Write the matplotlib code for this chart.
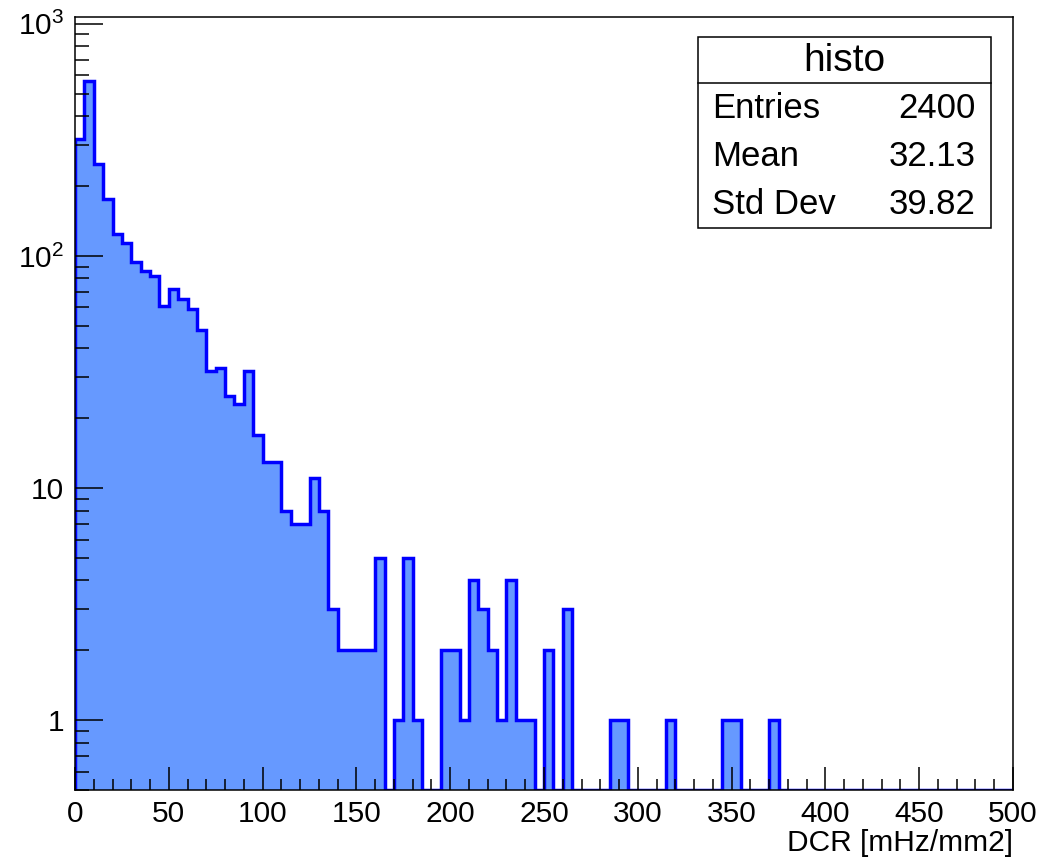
import matplotlib
matplotlib.use('Agg')
import matplotlib.pyplot as plt
import numpy as np
from matplotlib.ticker import FixedLocator, MultipleLocator, LogLocator, NullFormatter

plt.rcParams['font.family'] = ['Liberation Sans', 'DejaVu Sans']
plt.rcParams['mathtext.default'] = 'regular'

# histogram: 100 bins of 5 mHz/mm2 from 0 to 500
bin_edges = np.linspace(0, 500, 101)
counts = np.zeros(100)
filled = [319, 565, 249, 176, 124, 114, 94, 86, 82, 61,
          72, 65, 59, 48, 32, 33, 25, 23, 32, 17,
          13, 13, 8, 7, 7, 11, 8, 3, 2, 2,
          2, 2, 5, 0, 1, 5, 1, 0, 0, 2,
          2, 1, 4, 3, 2, 1, 4, 1, 1, 0,
          2, 0, 3, 0, 0, 0, 0, 1, 1, 0,
          0, 0, 0, 1, 0, 0, 0, 0, 0, 1,
          1, 0, 0, 0, 1]
counts[:len(filled)] = filled

hist_name = 'histo'
stat_names = ['Entries', 'Mean', 'Std Dev']
stat_values = ['2400', '32.13', '39.82']
x_label = 'DCR [mHz/mm2]'

ymin, ymax = 0.5, 1070
shown = np.maximum(counts, ymin)

fig = plt.figure(figsize=(10.61, 8.59), dpi=100)
ax = fig.add_axes([75/1061, 1 - 790/859, 938/1061, 773/859])

ax.stairs(shown, bin_edges, baseline=ymin, fill=True, color='#6699ff', lw=0)
ax.stairs(shown, bin_edges, baseline=ymin, color='#0000ff', lw=2.5)

ax.set_yscale('log')
ax.set_xlim(0, 500)
ax.set_ylim(ymin, ymax)

ax.yaxis.set_major_locator(FixedLocator([1, 10, 100, 1000]))
ax.set_yticklabels(['1', '10', r'$10^{2}$', r'$10^{3}$'])
ax.yaxis.set_minor_locator(LogLocator(base=10, subs=np.arange(2, 10)))
ax.yaxis.set_minor_formatter(NullFormatter())
ax.xaxis.set_major_locator(MultipleLocator(50))
ax.xaxis.set_minor_locator(MultipleLocator(10))

ax.tick_params(axis='both', which='both', direction='in', labelsize=21.5, width=1.1)
ax.tick_params(axis='y', which='major', length=20, pad=8)
ax.tick_params(axis='y', which='minor', length=10)
ax.tick_params(axis='x', which='major', length=16.5, pad=7)
ax.tick_params(axis='x', which='minor', length=8)
for s in ax.spines.values():
    s.set_linewidth(1.1)

ax.set_xlabel(x_label, fontsize=21.5)
ax.xaxis.set_label_coords(1.0, -0.05)
ax.xaxis.label.set_horizontalalignment('right')

# stats box
bx0, bx1 = 698/1061, 991/1061
by0, by1 = 1 - 228/859, 1 - 37/859
bdiv = 1 - 83/859
fig.patches.append(plt.Rectangle((bx0, by0), bx1 - bx0, by1 - by0, transform=fig.transFigure,
                                 facecolor='white', edgecolor='black', lw=1.1, zorder=5))
fig.lines.append(plt.Line2D([bx0, bx1], [bdiv, bdiv], transform=fig.transFigure,
                            color='black', lw=1.1, zorder=6))
fig.text((bx0 + bx1) / 2, 1 - 61/859, hist_name, ha='center', va='center', fontsize=28, zorder=7)
row_y = [108, 157, 205]
for name, val, ry in zip(stat_names, stat_values, row_y):
    fig.text(712/1061, 1 - ry/859, name, ha='left', va='center', fontsize=25, zorder=7)
    fig.text(976/1061, 1 - ry/859, val, ha='right', va='center', fontsize=25, zorder=7)

fig.savefig('out.png', dpi=100)
